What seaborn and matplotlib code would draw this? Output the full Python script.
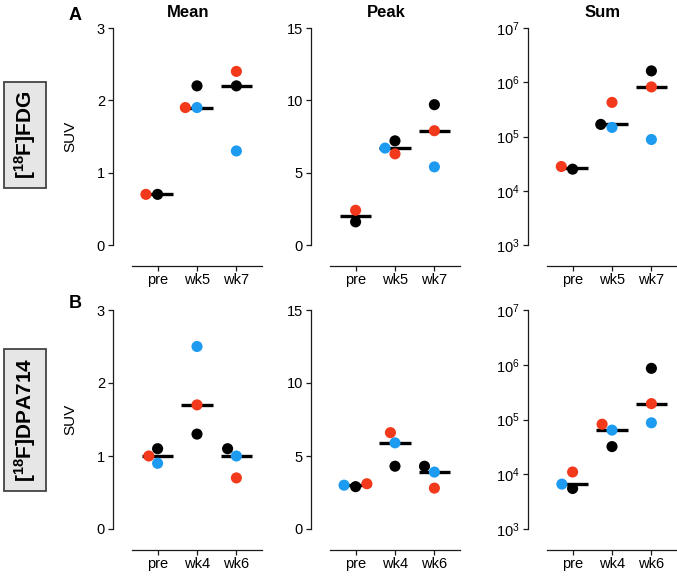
import numpy as np
import pandas as pd
import matplotlib
matplotlib.use("Agg")
import matplotlib.pyplot as plt
import seaborn as sns

sns.set_style("ticks")
plt.rcParams["font.family"] = ["Liberation Sans", "DejaVu Sans"]
plt.rcParams["mathtext.fontset"] = "custom"
plt.rcParams["mathtext.rm"] = "Liberation Sans"
plt.rcParams["mathtext.bf"] = "Liberation Sans:bold"
for key in ("text.color", "axes.labelcolor", "xtick.color", "ytick.color"):
    plt.rcParams[key] = "black"

subjects = ["black", "blue", "red"]
colors = {"black": "#000000", "red": "#f2391b", "blue": "#1d9bf0"}

# FDG tracer, timepoints pre / wk5 / wk7 (blue animal has no pre scan)
fdg_times = ["pre", "wk5", "wk7"]
fdg_mean = {"black": [0.7, 2.2, 2.2], "red": [0.7, 1.9, 2.4], "blue": [np.nan, 1.9, 1.3]}
fdg_peak = {"black": [1.6, 7.2, 9.7], "red": [2.4, 6.3, 7.9], "blue": [np.nan, 6.7, 5.4]}
fdg_sum = {"black": [2.5e4, 1.67e5, 1.62e6], "red": [2.8e4, 4.25e5, 8.2e5],
           "blue": [np.nan, 1.47e5, 8.8e4]}

# DPA714 tracer, timepoints pre / wk4 / wk6
dpa_times = ["pre", "wk4", "wk6"]
dpa_mean = {"black": [1.1, 1.3, 1.1], "red": [1.0, 1.7, 0.7], "blue": [0.9, 2.5, 1.0]}
dpa_peak = {"black": [2.9, 4.3, 4.3], "red": [3.1, 6.6, 2.8], "blue": [3.0, 5.9, 3.9]}
dpa_sum = {"black": [5.5e3, 3.2e4, 8.6e5], "red": [1.1e4, 8.2e4, 1.95e5],
           "blue": [6.6e3, 6.4e4, 8.7e4]}

titles = ["Mean", "Peak", "Sum"]


def to_frame(values, times):
    rows = []
    for s in subjects:
        for t, v in zip(times, values[s]):
            if not np.isnan(v):
                rows.append({"time": t, "subject": s, "value": v})
    return pd.DataFrame(rows)


W, H = 677, 578
fig = plt.figure(figsize=(W / 100, H / 100), dpi=100)

lefts = [132, 330, 547]
rows = [(28, 245, fdg_times, [fdg_mean, fdg_peak, fdg_sum]),
        (310, 529, dpa_times, [dpa_mean, dpa_peak, dpa_sum])]

for r, (top, bot, times, datasets) in enumerate(rows):
    for c, values in enumerate(datasets):
        ax = fig.add_axes([lefts[c] / W, (H - bot) / H, 130 / W, (bot - top) / H])
        df = to_frame(values, times)
        log = c == 2
        sns.boxplot(data=df, x="time", y="value", order=times, ax=ax, width=0.8,
                    showbox=False, showcaps=False, showfliers=False,
                    whiskerprops={"visible": False},
                    medianprops={"color": "black", "linewidth": 2.4},
                    log_scale=log)
        sns.swarmplot(data=df, x="time", y="value", order=times, hue="subject",
                      hue_order=subjects, palette=colors, size=8, ax=ax,
                      legend=False, zorder=3, log_scale=log)
        ax.set_xlim(-0.65, 2.65)
        if log:
            ax.set_ylim(1e3, 1e7)
            ax.set_yticks([1e3, 1e4, 1e5, 1e6, 1e7])
            ax.yaxis.set_minor_locator(matplotlib.ticker.NullLocator())
        elif c == 0:
            ax.set_ylim(0, 3)
            ax.set_yticks([0, 1, 2, 3])
        else:
            ax.set_ylim(0, 15)
            ax.set_yticks([0, 5, 10, 15])
        ax.set_xlabel("")
        ax.set_ylabel("")
        sns.despine(ax=ax)
        ax.spines["left"].set_position(("outward", 14))
        ax.spines["bottom"].set_position(("outward", 15))
        for sp in ("left", "bottom"):
            ax.spines[sp].set_linewidth(0.9)
            ax.spines[sp].set_color("#1a1a1a")
        ax.tick_params(axis="both", direction="out", length=3.5, width=0.9,
                       labelsize=10.5, color="#1a1a1a", pad=2)
        if c == 0:
            ax.set_ylabel("SUV", fontsize=11)
            ax.yaxis.set_label_coords(-0.42, 0.5)
        if r == 0:
            ax.set_title(titles[c], fontsize=12, fontweight="bold", x=0.43, pad=8)

fig.text(75 / W, 1 - 15 / H, "A", fontsize=13, fontweight="bold", ha="center", va="center")
fig.text(75 / W, 1 - 304 / H, "B", fontsize=13, fontweight="bold", ha="center", va="center")

box = dict(boxstyle="square,pad=0.4", fc="#e6e6e6", ec="#444444", lw=1.3)
fig.text(25 / W, 1 - 135 / H, r"$\mathbf{[^{18}F]FDG}$", fontsize=15, rotation=90,
         ha="center", va="center", bbox=box)
fig.text(25 / W, 1 - 420 / H, r"$\mathbf{[^{18}F]DPA714}$", fontsize=15, rotation=90,
         ha="center", va="center", bbox=box)

fig.savefig("out.png", dpi=100)
